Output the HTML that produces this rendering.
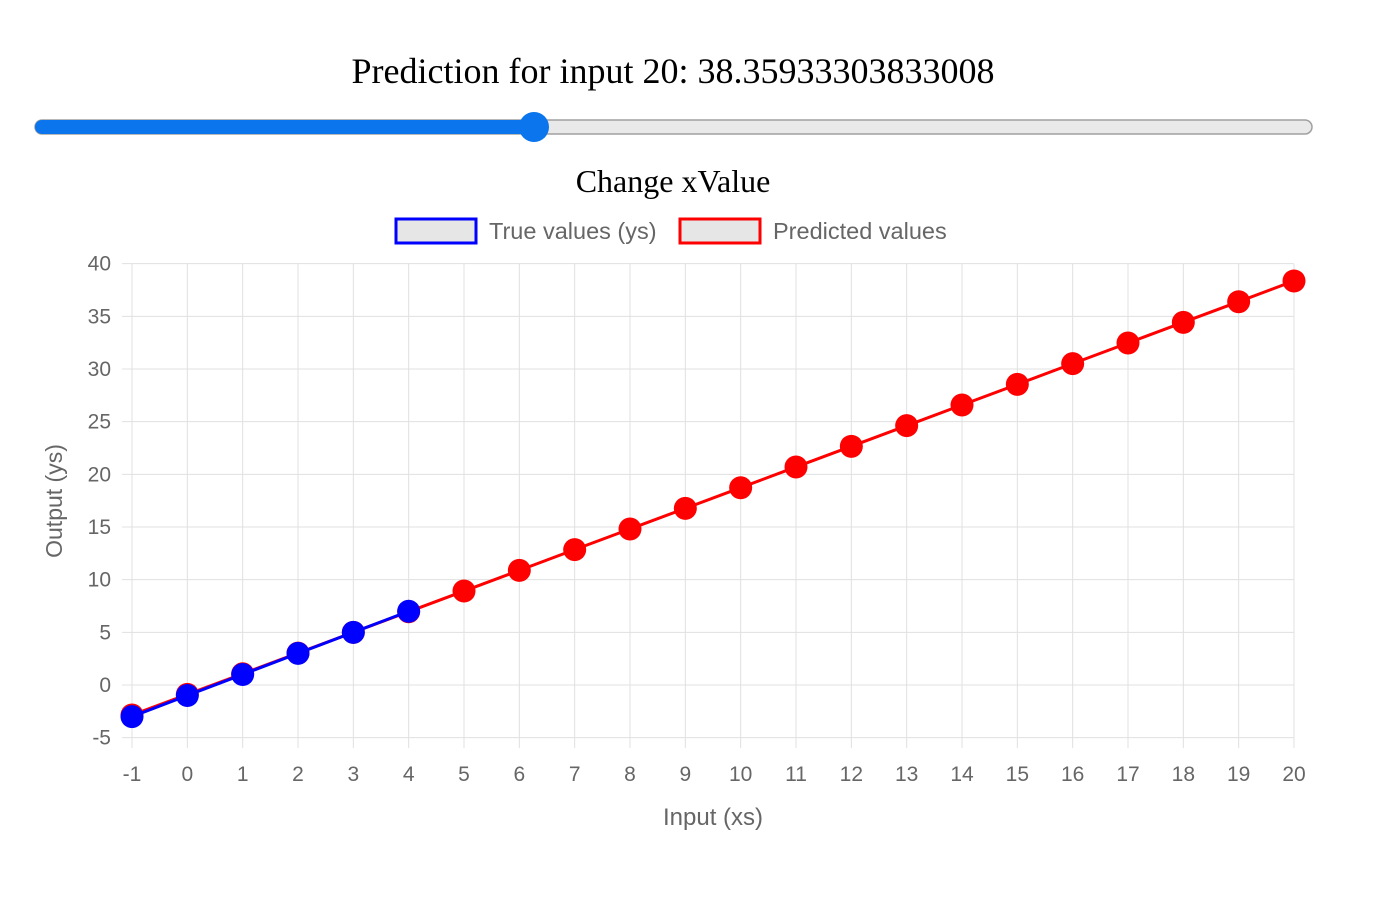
<!DOCTYPE html>
<html><head><meta charset="utf-8"><style>
body{margin:0;background:#fff;width:1382px;height:908px;overflow:hidden;font-family:"Liberation Sans",sans-serif}
#title{position:absolute;left:0;width:1346px;top:50px;text-align:center;font-family:"Liberation Serif",serif;font-size:36px;color:#000}
</style></head><body>
<div id="title">Prediction for input 20: 38.35933303833008</div>
<svg width="1382" height="908" style="position:absolute;left:0;top:0">
<g>
<rect x="35" y="120" width="1277" height="14" rx="7" fill="#e9e9e9" stroke="#a0a0a0" stroke-width="1.5"/>
<rect x="35" y="120" width="499" height="14" rx="7" fill="#0a75ed"/>
<circle cx="534" cy="127" r="15" fill="#0a75ed"/>
</g>
<text x="673" y="192" text-anchor="middle" font-family="Liberation Serif" font-size="32" fill="#000">Change xValue</text>
<g><rect x="396" y="219" width="80" height="24" fill="#e6e6e6" stroke="#0000ff" stroke-width="3"/><text x="489" y="239" font-size="23.5" fill="#666">True values (ys)</text></g>
<g><rect x="680" y="219" width="80" height="24" fill="#e6e6e6" stroke="#ff0000" stroke-width="3"/><text x="773" y="239" font-size="23.5" fill="#666">Predicted values</text></g>
<g id="grid"></g><g id="axes"></g><g id="series"></g>
<text x="713" y="825" text-anchor="middle" font-size="24" fill="#666">Input (xs)</text>
<text transform="translate(62,501) rotate(-90)" text-anchor="middle" font-size="23" fill="#666">Output (ys)</text>
</svg>
<script>
const xsLabels=[-1,0,1,2,3,4,5,6,7,8,9,10,11,12,13,14,15,16,17,18,19,20];
const yTicks=[40,35,30,25,20,15,10,5,0,-5];
const trueXs=[-1,0,1,2,3,4];
const trueYs=[-3,-1,1,3,5,7];
const predYs=[-2.85,-0.89,1.07,3.03,5.00,6.96,8.92,10.88,12.85,14.81,16.77,18.73,20.70,22.66,24.62,26.58,28.54,30.51,32.47,34.43,36.39,38.36];
const NS="http://www.w3.org/2000/svg";
const X=v=>132+(v+1)*(1294-132)/21;
const Y=v=>685-v*(738-264)/45;
function mk(t,a,p){const e=document.createElementNS(NS,t);for(const k in a)e.setAttribute(k,a[k]);p.appendChild(e);return e;}
const g=document.getElementById('grid'),ax=document.getElementById('axes'),s=document.getElementById('series');
xsLabels.forEach(v=>{const l=mk('line',{x1:X(v),x2:X(v),y1:264,y2:748,stroke:'#e0e0e0','stroke-width':1},g);

const t=mk('text',{x:X(v),y:781,'text-anchor':'middle','font-size':21,fill:'#666'},ax);t.textContent=v;
});
yTicks.forEach(v=>{const l=mk('line',{x1:122,x2:1294,y1:Y(v),y2:Y(v),stroke:'#e0e0e0','stroke-width':1},g);

const t=mk('text',{x:111,y:Y(v)+7,'text-anchor':'end','font-size':21,fill:'#666'},ax);t.textContent=v;
});
function series(xs,ys,c,n){const p=mk('polyline',{points:xs.map((x,i)=>X(x)+','+Y(ys[i])).join(' '),fill:'none',stroke:c,'stroke-width':3},s);

xs.forEach((x,i)=>{const d=mk('circle',{cx:X(x),cy:Y(ys[i]),r:11.5,fill:c},s);
});}
series(xsLabels,predYs,'#ff0000','predicted');
series(trueXs,trueYs,'#0000ff','true');
</script>
</body></html>
